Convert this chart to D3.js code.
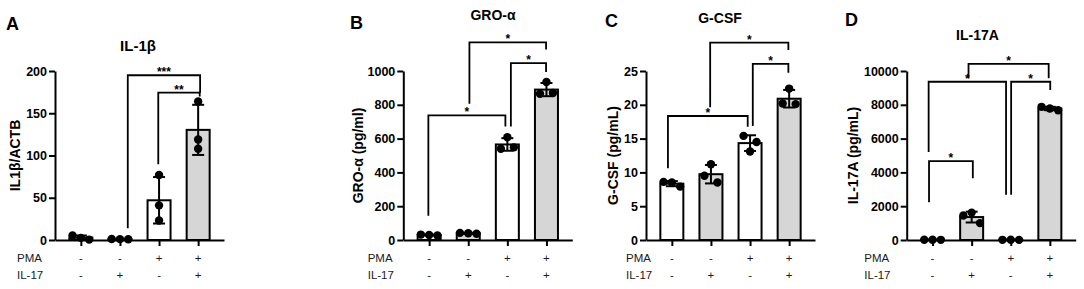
<!DOCTYPE html>
<html><head><meta charset="utf-8">
<script src="https://cdn.jsdelivr.net/npm/d3@7/dist/d3.min.js"></script>
<style>body{margin:0;background:#fff}svg{display:block}</style>
</head><body>
<svg id="chart" width="1084" height="289"></svg>
<script>
// ---------------- DATA ----------------
const groups = ["g1", "g2", "g3", "g4"];
const pmaSigns  = ["-", "-", "+", "+"];
const il17Signs = ["-", "+", "-", "+"];
const rowNames = ["PMA", "IL-17"];

const panelLetters = ["A", "B", "C", "D"];
const titles = ["IL-1β", "GRO-α", "G-CSF", "IL-17A"];
const yLabels = ["IL1β/ACTB", "GRO-α (pg/ml)", "G-CSF (pg/mL)", "IL-17A (pg/mL)"];

const yTicksA = [0, 50, 100, 150, 200];
const yTicksB = [0, 200, 400, 600, 800, 1000];
const yTicksC = [0, 5, 10, 15, 20, 25];
const yTicksD = [0, 2000, 4000, 6000, 8000, 10000];

// replicate values per group (bar = mean, error bar = SD)
const pointsA = [[5.5, 2.5, 0.5], [1.2, 1.0, 0.8], [77, 41, 23], [164, 119, 108]];
const pointsB = [[32, 30, 27], [42, 40, 37], [608, 540, 548], [935, 865, 870]];
const pointsC = [[8.6, 8.5, 7.9], [11.2, 9.5, 8.5], [15.4, 14.5, 13.1], [22.4, 20.2, 20.1]];
const pointsD = [[15, 12, 10], [1450, 1620, 1000], [10, 12, 8], [7880, 7780, 7680]];

// significance comparisons: [fromGroupIndex, toGroupIndex, label]
const compA = [[1.2, 3.05, "***"], [1.98, 3.04, "**"]];
const compB = [[-0.02, 1.95, "*"], [1.03, 2.99, "*"], [2.09, 2.99, "*"]];
const compC = [[-0.1, 1.94, "*"], [0.98, 2.98, "*"], [2.07, 2.98, "*"]];
const compD = [[-0.09, 1.03, "*"], [-0.1, 1.88, "*"], [2.01, 3.01, "*"], [0.92, 2.97, "*"]];

// ---------------- LAYOUT (positions / styles) ----------------
// bracket geometry in data units: [level, leftLegEnd, rightLegEnd]
const bracketGeomA = [[195, 14, 174.4], [174.4, 89.6, 169.7]];
const bracketGeomB = [[737, 143, 671], [1169, 806, 1127], [1047, 671, 994]];
const bracketGeomC = [[18.34, 10.6, 16.76], [29.19, 19.63, 28.1], [26.04, 16.86, 24.75]];
const bracketGeomD = [[4670, 2234, 3660], [9364, 5205, 2674], [9364, 2674, 8871], [10416, 9566, 9566]];

const panels = [
  {x0: 55,    letter: [6, 30],      title: [138, 51],   yLabelX: 15,  rowX: 17,
   ticks: yTicksA, pts: pointsA, comp: compA, geom: bracketGeomA},
  {x0: 403.3, letter: [350, 28.5],  title: [493, 20],   yLabelX: 358, rowX: 367.7,
   ticks: yTicksB, pts: pointsB, comp: compB, geom: bracketGeomB},
  {x0: 646,   letter: [605, 27],    title: [720, 22.5], yLabelX: 613, rowX: 626,
   ticks: yTicksC, pts: pointsC, comp: compC, geom: bracketGeomC},
  {x0: 906.7, letter: [845, 26],    title: [977.5, 40], yLabelX: 853, rowX: 864.3,
   ticks: yTicksD, pts: pointsD, comp: compD, geom: bracketGeomD}
];

const FONT = "'Liberation Sans', Arial, Helvetica, sans-serif";
const ROWFONT = "'Liberation Sans Narrow', 'Liberation Sans', Arial, sans-serif";
const plotW = 169, yBottom = 240, yTop = 71;
const barW = 23, capHalf = 6, r = 4.2;
const grayFill = "#d6d6d6";

const svg = d3.select("#chart");

function swarmOffsets(vals, y) {
  const n = vals.length;
  const order = d3.range(n).sort((a, b) => y(vals[a]) - y(vals[b]));
  const offs = new Array(n).fill(0);
  let cluster = [order[0]];
  const flush = () => {
    if (cluster.length > 1) {
      const s = cluster.length === 2 ? 13 : 8.3;
      const c = cluster.slice().sort((a, b) => a - b);
      c.forEach((idx, k) => offs[idx] = (k - (c.length - 1) / 2) * s);
    }
  };
  for (let k = 1; k < n; k++) {
    const prev = order[k - 1], cur = order[k];
    if (Math.abs(y(vals[cur]) - y(vals[prev])) < 9) cluster.push(cur);
    else { flush(); cluster = [cur]; }
  }
  flush();
  return offs;
}

panels.forEach((p, pi) => {
  const g = svg.append("g");
  const x = d3.scalePoint().domain(groups).range([p.x0, p.x0 + plotW]).padding(0.661);
  const y = d3.scaleLinear().domain([0, d3.max(p.ticks)]).range([yBottom, yTop]);
  const xf = f => x(groups[0]) + f * x.step();

  // letter, title, y label
  g.append("text").attr("x", p.letter[0]).attr("y", p.letter[1])
    .attr("font-family", FONT).attr("font-weight", "bold").attr("font-size", 18)
    .text(panelLetters[pi]);
  g.append("text").attr("x", p.title[0]).attr("y", p.title[1]).attr("text-anchor", "middle")
    .attr("font-family", FONT).attr("font-weight", "bold").attr("font-size", pi === 0 ? 15 : 14)
    .text(titles[pi]);
  g.append("text")
    .attr("transform", `translate(${p.yLabelX},${(yBottom + yTop) / 2}) rotate(-90)`)
    .attr("text-anchor", "middle").attr("dominant-baseline", "central")
    .attr("font-family", FONT).attr("font-weight", "bold").attr("font-size", 14)
    .text(yLabels[pi]);

  // stats
  const stats = p.pts.map(v => ({mean: d3.mean(v), sd: d3.deviation(v)}));

  // bars
  g.selectAll("rect.bar").data(stats).join("rect").attr("class", "bar")
    .attr("x", (d, i) => x(groups[i]) - barW / 2)
    .attr("width", barW)
    .attr("y", d => y(d.mean))
    .attr("height", d => Math.max(0, y(0) - y(d.mean)))
    .attr("fill", (d, i) => il17Signs[i] === "+" ? grayFill : "#fff")
    .attr("stroke", "#000").attr("stroke-width", 2);

  // axes
  const yAxis = g.append("g").attr("transform", `translate(${p.x0},0)`)
    .call(d3.axisLeft(y).tickValues(p.ticks).tickFormat(d3.format("d"))
      .tickSize(6).tickSizeOuter(0).tickPadding(2));
  yAxis.selectAll("path,line").attr("stroke", "#000").attr("stroke-width", 2);
  yAxis.selectAll("text").attr("font-family", FONT).attr("font-weight", "bold")
    .attr("font-size", 12.5).attr("fill", "#000");

  const xAxis = g.append("g").attr("transform", `translate(0,${yBottom})`)
    .call(d3.axisBottom(x).tickSize(6).tickSizeOuter(0).tickFormat(""));
  xAxis.selectAll("path,line").attr("stroke", "#000").attr("stroke-width", 2);

  // error bars (mean ± SD)
  stats.forEach((d, i) => {
    const cx = x(groups[i]);
    const lo = Math.max(0, d.mean - d.sd), hi = d.mean + d.sd;
    const eb = g.append("g").attr("stroke", "#000").attr("stroke-width", 2);
    eb.append("line").attr("x1", cx).attr("x2", cx).attr("y1", y(hi)).attr("y2", y(lo));
    eb.append("line").attr("x1", cx - capHalf).attr("x2", cx + capHalf).attr("y1", y(hi)).attr("y2", y(hi));
    eb.append("line").attr("x1", cx - capHalf).attr("x2", cx + capHalf).attr("y1", y(lo)).attr("y2", y(lo));
  });

  // points
  p.pts.forEach((vals, i) => {
    const offs = swarmOffsets(vals, y);
    g.selectAll(null).data(vals).join("circle")
      .attr("cx", (v, k) => x(groups[i]) + offs[k])
      .attr("cy", v => y(v))
      .attr("r", r).attr("fill", "#000");
  });

  // brackets
  p.comp.forEach((c, k) => {
    const [from, to, label] = c;
    const [lev, le, re] = p.geom[k];
    const x1 = xf(from), x2 = xf(to);
    g.append("path")
      .attr("d", `M${x1},${y(le)}V${y(lev)}H${x2}V${y(re)}`)
      .attr("fill", "none").attr("stroke", "#000").attr("stroke-width", 1.8);
    g.append("text").attr("x", (x1 + x2) / 2).attr("y", y(lev) + 1)
      .attr("text-anchor", "middle").attr("font-family", FONT).attr("font-weight", "bold")
      .attr("font-size", 12).text(label);
  });

  // condition rows
  [pmaSigns, il17Signs].forEach((row, ri) => {
    const yy = 258 + ri * 17;
    g.append("text").attr("x", p.rowX).attr("y", yy).attr("dominant-baseline", "central")
      .attr("font-family", ROWFONT).attr("font-size", 11.5).attr("fill", "#1a1a1a")
      .text(rowNames[ri]);
    g.selectAll(null).data(row).join("text")
      .attr("x", (s, i) => x(groups[i])).attr("y", yy)
      .attr("text-anchor", "middle").attr("dominant-baseline", "central")
      .attr("font-family", ROWFONT).attr("font-size", 11.5).attr("fill", "#1a1a1a")
      .text(s => s);
  });
});
</script>
</body></html>
